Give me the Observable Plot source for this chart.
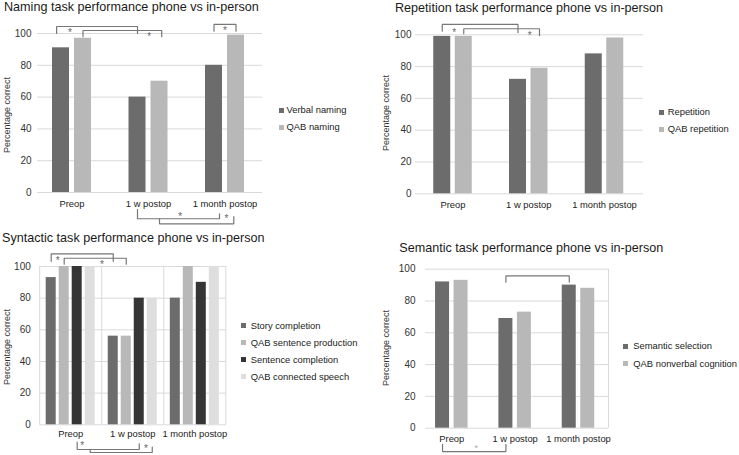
<!DOCTYPE html>
<html><head><meta charset="utf-8">
<script src="https://cdn.jsdelivr.net/npm/d3@7"></script>
<script src="https://cdn.jsdelivr.net/npm/@observablehq/plot@0.6"></script>
<style>
body{margin:0;background:#fff;font-family:"Liberation Sans",Arial,Helvetica,sans-serif;}
#root{position:relative;width:739px;height:455px;overflow:hidden;background:#fff;}
.panel{position:absolute;}
.txt{position:absolute;white-space:nowrap;line-height:1;}
.sq{position:absolute;}
.ytitle{position:absolute;white-space:nowrap;line-height:1;transform:translate(-50%,-50%) rotate(-90deg);}
</style></head><body><div id="root"></div>
<script>
// ---------- DATA ----------
const groups = ["Preop", "1 w postop", "1 month postop"];
const yTicks = [0, 20, 40, 60, 80, 100];
const yTitle = "Percentage correct";

// Naming
const namingTitle = "Naming task performance phone vs in-person";
const namingSeries = ["Verbal naming", "QAB naming"];
const namingVerbal = [91, 60, 80];
const namingQAB = [97, 70, 99];
// significance brackets: from/to = [group index, series index], levels in % units
const namingBrackets = [
  {from: [0, -0.2], to: [1, 0], level: 104.4, leg1: 100, leg2: 100, star: 0.165, starY: 101.9},
  {from: [0, 1], to: [1, 1.1], level: 101.9, leg1: 98, leg2: 98, star: 0.84, starY: 99.4},
  {from: [2, 0], to: [2, 1], level: 105.7, leg1: 101.4, leg2: 101.4, star: 0.5, starY: 103.1},
  {from: [1, 0], to: [2, 0.25], level: -16.5, leg1: -10.7, leg2: -13.4, star: 0.52, starY: -13.8},
  {from: [1, 1], to: [2, 0.9], level: -19.7, leg1: -16.5, leg2: -15.1, star: 0.9, starY: -15.1}
];

// Repetition
const repTitle = "Repetition task performance phone vs in-person";
const repSeries = ["Repetition", "QAB repetition"];
const repRepetition = [99, 72, 88];
const repQAB = [99, 79, 98];
const repBrackets = [
  {from: [0, 0], to: [1, 0], level: 106.5, leg1: 102.3, leg2: 101.3, star: 0.157, starY: 102.7},
  {from: [0, 1], to: [1, 1], level: 103.8, leg1: 100.6, leg2: 99.5, star: 0.87, starY: 101}
];

// Syntactic
const synTitle = "Syntactic task performance phone vs in-person";
const synSeries = ["Story completion", "QAB sentence production", "Sentence completion", "QAB connected speech"];
const synStory = [93, 56, 80];
const synQABSentence = [100, 56, 100];
const synSentence = [100, 80, 90];
const synQABConnected = [100, 80, 100];
const synBrackets = [
  {from: [0, 0], to: [1, 0], level: 108, leg1: 103.3, leg2: 103.3, star: 0.106, starY: 104.9},
  {from: [0, 1], to: [1, 1], level: 105.2, leg1: 101.5, leg2: 101.5, star: 0.61, starY: 102.7},
  {from: [0, 2], to: [1, 2], level: -15.6, leg1: -11.0, leg2: -12.0, star: 0.08, starY: -12.0},
  {from: [0, 3], to: [1, 3], level: -17.5, leg1: -15.6, leg2: -14.1, star: 0.9, starY: -13.7}
];

// Semantic
const semTitle = "Semantic task performance phone vs in-person";
const semSeries = ["Semantic selection", "QAB nonverbal cognition"];
const semSelection = [92, 69, 90];
const semQAB = [93, 73, 88];
const semBrackets = [
  {from: [1, 0], to: [2, 0], level: 95.8, leg1: 91.8, leg2: 91.8, star: null, starY: null},
  {from: [0, 0], to: [1, 0], level: -14.7, leg1: -10.2, leg2: -10.2, star: 0.53, starY: -11.1, faint: true}
];

// ---------- STYLE / LAYOUT ----------
const C_DARK = "#6c6c6c", C_LIGHT = "#b8b8b8", C_DARKEST = "#353535", C_LIGHTEST = "#dedede";
const FONT = '"Liberation Sans", Arial, Helvetica, sans-serif';
const root = document.getElementById("root");

function addText(str, x, baseline, fs, color) {
  const d = document.createElement("div");
  d.className = "txt";
  d.textContent = str;
  d.style.left = x + "px";
  d.style.top = (baseline - 0.8465 * fs) + "px";
  d.style.fontSize = fs + "px";
  d.style.color = color;
  root.appendChild(d);
}
function addYTitle(cx, cy) {
  const d = document.createElement("div");
  d.className = "ytitle";
  d.textContent = yTitle;
  d.style.left = cx + "px";
  d.style.top = cy + "px";
  d.style.fontSize = "9px";
  d.style.color = "#333";
  root.appendChild(d);
}
function addLegend(names, colors, sqX, textX, ys) {
  names.forEach((n, i) => {
    const s = document.createElement("div");
    s.className = "sq";
    s.style.left = sqX + "px";
    s.style.top = (ys[i] - 2.5) + "px";
    s.style.width = "5px"; s.style.height = "5px";
    s.style.background = colors[i];
    root.appendChild(s);
    addText(n, textX, ys[i] + 3.4, 9.4, "#222");
  });
}

function drawPanel(cfg, seriesNames, seriesValues, colors, brackets) {
  const {ox, oy, w, h, c0, c2, y0, y100, gridL, gridR, barW, step, padY, padX} = cfg;
  const unit = (c2 - c0) / 2;
  const n = seriesNames.length;
  const xOf = (g, s) => g + (s - (n - 1) / 2) * step / unit;
  const bw = barW / unit;
  const rows = [];
  seriesNames.forEach((name, si) => seriesValues[si].forEach((v, gi) =>
    rows.push({gi, si, series: name, group: groups[gi], value: v})));
  const pts = [];
  brackets.forEach((b, k) => {
    const x1 = xOf(...b.from), x2 = xOf(...b.to);
    pts.push({k, x: x1, y: b.leg1}, {k, x: x1, y: b.level}, {k, x: x2, y: b.level}, {k, x: x2, y: b.leg2});
  });
  const stars = brackets.filter(b => b.star != null).map(b => {
    const x1 = xOf(...b.from), x2 = xOf(...b.to);
    return {x: x1 + (x2 - x1) * b.star, y: b.starY, faint: !!b.faint};
  });
  const marks = [
    Plot.gridY(yTicks, {stroke: "#d9d9d9", strokeOpacity: 1}),
  ];
  if (cfg.groupFrame) {
    marks.push(Plot.ruleX([-0.5, 0.5, 1.5, 2.5], {y1: 0, y2: 100, stroke: "#d9d9d9"}));
  }
  if (cfg.rightLine) {
    marks.push(Plot.ruleX([(gridR - c0) / unit], {y1: 0, y2: 100, stroke: "#d9d9d9"}));
  }
  marks.push(
    Plot.rectY(rows, {x1: d => xOf(d.gi, d.si) - bw / 2, x2: d => xOf(d.gi, d.si) + bw / 2, y: "value", fill: "series"}),
    Plot.axisY({ticks: yTicks, tickSize: 0, tickPadding: padY, label: null, fontSize: 10, fill: "#333"}),
    Plot.axisX({ticks: [0, 1, 2], tickFormat: i => groups[i], tickSize: 0, tickPadding: padX, label: null, fontSize: 9.4, fill: "#222"}),
    Plot.line(pts, {x: "x", y: "y", z: "k", stroke: "#777", strokeWidth: 1.2, strokeLinejoin: "miter"}),
    Plot.text(stars.filter(s => !s.faint), {x: "x", y: "y", text: () => "*", fontSize: 10, fill: "#666", dy: 2.5}),
    Plot.text(stars.filter(s => s.faint), {x: "x", y: "y", text: () => "*", fontSize: 9, fill: "#aaa", dy: 2.5})
  );
  const svg = Plot.plot({
    width: w, height: h,
    marginLeft: gridL - ox, marginRight: ox + w - gridR,
    marginTop: y100 - oy, marginBottom: oy + h - y0,
    x: {domain: [0, 2], range: [c0 - ox, c2 - ox]},
    y: {domain: [0, 100], range: [y0 - oy, y100 - oy]},
    color: {domain: seriesNames, range: colors},
    style: {fontFamily: FONT, fontSize: "9.4px", overflow: "visible", background: "transparent"},
    marks
  });
  const holder = document.createElement("div");
  holder.className = "panel";
  holder.style.left = ox + "px"; holder.style.top = oy + "px";
  holder.style.width = w + "px"; holder.style.height = h + "px";
  holder.appendChild(svg);
  root.appendChild(holder);
}

// Panel 1: Naming
drawPanel({ox: 0, oy: 0, w: 370, h: 230, c0: 71.5, c2: 224.5, y0: 192, y100: 33, gridL: 37, gridR: 262, barW: 17, step: 22, padY: 6, padX: 7.6},
  namingSeries, [namingVerbal, namingQAB], [C_DARK, C_LIGHT], namingBrackets);
addText(namingTitle, 4, 11.5, 12.6, "#1a1a1a");
addYTitle(6.5, 115);
addLegend(namingSeries, [C_DARK, C_LIGHT], 278.5, 286.5, [110, 127]);

// Panel 2: Repetition
drawPanel({ox: 370, oy: 0, w: 369, h: 230, c0: 452.5, c2: 604, y0: 193.3, y100: 34.3, gridL: 415, gridR: 643, barW: 17, step: 21.5, padY: 4, padX: 7.3},
  repSeries, [repRepetition, repQAB], [C_DARK, C_LIGHT], repBrackets);
addText(repTitle, 395, 13, 12.6, "#1a1a1a");
addYTitle(386, 112.5);
addLegend(repSeries, [C_DARK, C_LIGHT], 658.5, 667.7, [112, 129]);

// Panel 3: Syntactic
drawPanel({ox: 0, oy: 230, w: 370, h: 225, c0: 70.2, c2: 194.3, y0: 424.3, y100: 266, gridL: 39.3, gridR: 226, barW: 10, step: 13, padY: 9, padX: 5.3, groupFrame: true},
  synSeries, [synStory, synQABSentence, synSentence, synQABConnected], [C_DARK, C_LIGHT, C_DARKEST, C_LIGHTEST], synBrackets);
addText(synTitle, 2, 242.5, 12.6, "#1a1a1a");
addYTitle(7.3, 347);
addLegend(synSeries, [C_DARK, C_LIGHT, C_DARKEST, C_LIGHTEST], 240.7, 250.7, [325.7, 342.7, 359.3, 376.7]);

// Panel 4: Semantic
drawPanel({ox: 370, oy: 230, w: 369, h: 225, c0: 451.3, c2: 578, y0: 427.7, y100: 268.7, gridL: 425, gridR: 608, barW: 14, step: 18.5, padY: 10, padX: 7, rightLine: true},
  semSeries, [semSelection, semQAB], [C_DARK, C_LIGHT], semBrackets);
addText(semTitle, 399.3, 252.8, 12.6, "#1a1a1a");
addYTitle(386, 348);
addLegend(semSeries, [C_DARK, C_LIGHT], 623.3, 633.3, [346, 363.3]);
</script></body></html>
